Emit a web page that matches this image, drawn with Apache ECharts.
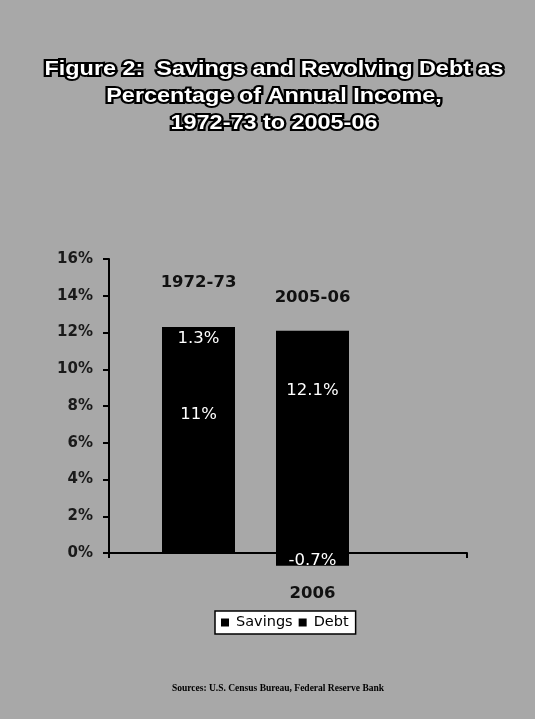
<!DOCTYPE html>
<html>
<head>
<meta charset="utf-8">
<script src="https://cdn.jsdelivr.net/npm/echarts@6/dist/echarts.min.js"></script>
<style>
  html, body { margin: 0; padding: 0; background: #a8a8a8; }
  #chart { width: 535px; height: 719px; }
</style>
</head>
<body>
<div id="chart"></div>
<script>
// Savings and revolving debt, % of annual income
const categories = ['1972-73', '2005-06'];
const savings = [11, -0.7];
const debt = [1.3, 12.1];
const seriesNames = ['Savings', 'Debt'];
const yMin = 0, yMax = 16, yStep = 2;
const titleLines = [
  'Figure 2:  Savings and Revolving Debt as',
  'Percentage of Annual Income,',
  '1972-73 to 2005-06'
];
const savingsNote = '2006';
const sourceText = 'Sources: U.S. Census Bureau, Federal Reserve Bank';

// vertical nudges for the in-bar value labels (px)
const savingsLabelShift = [-37, 1];
const debtLabelShift = [0, -51];

const chart = echarts.init(document.getElementById('chart'));

const gridTop = 259, gridBottom = 166;
const inBarLabel = {
  show: true,
  position: 'inside',
  color: '#fff',
  fontFamily: 'DejaVu Sans',
  fontSize: 16.5,
  formatter: p => p.value + '%'
};
const noteFont = 'bold 16.5px "DejaVu Sans", sans-serif';

const option = {
  backgroundColor: '#a8a8a8',
  animation: false,
  grid: [
    // visible frame: y axis and baseline
    { left: 109, right: 68, top: gridTop, bottom: gridBottom },
    // bar area
    { left: 141.5, width: 228, top: gridTop, bottom: gridBottom }
  ],
  xAxis: [
    {
      gridIndex: 0, type: 'category', data: [''],
      axisLine: { lineStyle: { color: '#000', width: 2 } },
      axisTick: { show: true, length: 5, lineStyle: { color: '#000', width: 2 } },
      axisLabel: { show: false }
    },
    {
      gridIndex: 1, type: 'category', data: categories, show: false
    }
  ],
  yAxis: [
    {
      gridIndex: 0, type: 'value', min: yMin, max: yMax, interval: yStep,
      splitLine: { show: false },
      axisLine: { show: true, lineStyle: { color: '#000', width: 2 } },
      axisTick: { show: true, length: 6, lineStyle: { color: '#000', width: 2 } },
      axisLabel: {
        formatter: '{value}%',
        margin: 16,
        padding: [6, 0, 0, 0],
        color: '#1a1a1a',
        fontFamily: 'DejaVu Sans',
        fontWeight: 'bold',
        fontSize: 15
      }
    },
    {
      gridIndex: 1, type: 'value', min: yMin, max: yMax, interval: yStep, show: false
    }
  ],
  legend: {
    data: seriesNames,
    left: 215,
    top: 611,
    icon: 'rect',
    itemWidth: 8,
    itemHeight: 8,
    itemGap: 6,
    padding: [4, 7, 4, 6],
    backgroundColor: '#fff',
    borderColor: '#000',
    borderWidth: 1.5,
    borderRadius: 0,
    textStyle: {
      color: '#000',
      fontFamily: 'DejaVu Sans',
      fontSize: 14.5,
      padding: [0, 0, 0, 2]
    }
  },
  series: [
    {
      name: seriesNames[0],
      type: 'bar',
      stack: 'total',
      xAxisIndex: 1, yAxisIndex: 1,
      barWidth: 73,
      clip: false,
      itemStyle: { color: '#000' },
      label: inBarLabel,
      data: savings.map((v, i) => ({
        value: v,
        label: { offset: [0, savingsLabelShift[i]] }
      }))
    },
    {
      name: seriesNames[1],
      type: 'bar',
      stack: 'total',
      xAxisIndex: 1, yAxisIndex: 1,
      barWidth: 73,
      clip: false,
      itemStyle: { color: '#000' },
      label: inBarLabel,
      data: debt.map((v, i) => ({
        value: v,
        label: { offset: [0, debtLabelShift[i]] }
      }))
    }
  ],
  graphic: [
    {
      type: 'text',
      x: 274,
      y: 56,
      scaleX: 1.2,
      style: {
        text: titleLines.join('\n'),
        font: 'bold 19.5px "Liberation Sans", Arial, sans-serif',
        fill: '#fff',
        stroke: '#000',
        lineWidth: 4,
        strokeFirst: true,
        align: 'center',
        verticalAlign: 'top',
        lineHeight: 27
      }
    },
    {
      type: 'text',
      x: 278,
      y: 689,
      style: {
        text: sourceText,
        font: 'bold 9.5px "Liberation Serif", "Times New Roman", serif',
        fill: '#000',
        align: 'center',
        verticalAlign: 'middle'
      }
    }
  ]
};

chart.setOption(option);

// period captions above the bars and the year note under the negative savings bar,
// placed through the bar grid's own scales
const notes = [
  { text: categories[0], at: [categories[0], 14.7] },
  { text: categories[1], at: [categories[1], 13.9] },
  { text: savingsNote, at: [categories[1], -2.2] }
];
const noteGraphics = notes.map(n => {
  const p = chart.convertToPixel({ gridIndex: 1 }, n.at);
  return {
    type: 'text',
    x: p[0],
    y: p[1],
    style: {
      text: n.text,
      font: noteFont,
      fill: '#111',
      align: 'center',
      verticalAlign: 'middle'
    }
  };
});
chart.setOption({ graphic: option.graphic.concat(noteGraphics) });
</script>
</body>
</html>
